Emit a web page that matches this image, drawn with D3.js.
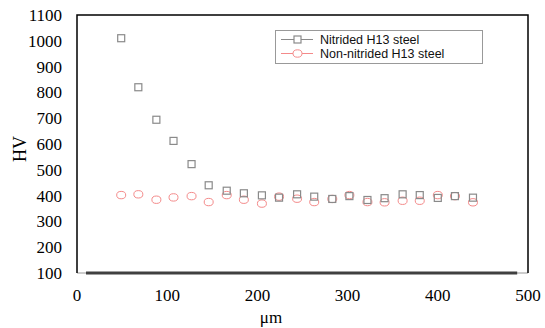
<!DOCTYPE html>
<html lang="en">
<head>
<meta charset="UTF-8">
<title>HV profile</title>
<script src="https://cdn.jsdelivr.net/npm/d3@7"></script>
<style>
  body { margin: 0; background: #fff; }
</style>
</head>
<body>
<script>
var width = 545, height = 328;
var plotLeft = 77, plotRight = 528, plotTop = 15, plotBottom = 273;

// depth positions (µm)
var depth = [49, 68, 88, 107, 127, 146, 166, 185, 205, 224, 244, 263, 283, 302, 322, 341, 361, 380, 400, 419, 439];
var nitrided = [1010, 820, 694, 612, 522, 440, 419, 409, 401, 392, 405, 396, 387, 398, 383, 390, 405, 402, 391, 398, 392];
var nonNitrided = [402, 405, 384, 393, 398, 375, 402, 384, 369, 396, 388, 375, 387, 402, 375, 374, 380, 380, 402, 398, 374];
var baseLine = [[10, 100], [488, 100]];
var xTicks = [0, 100, 200, 300, 400, 500];
var yTicks = [100, 200, 300, 400, 500, 600, 700, 800, 900, 1000, 1100];
var seriesNames = ["Nitrided H13 steel", "Non-nitrided H13 steel"];

var svg = d3.select("body").append("svg")
    .attr("width", width)
    .attr("height", height)

var x = d3.scaleLinear().domain([0, 500]).range([plotLeft, plotRight])
var y = d3.scaleLinear().domain([100, 1100]).range([plotBottom, plotTop])

// frame
svg.append("line").attr("x1", plotLeft).attr("x2", plotRight).attr("y1", plotBottom).attr("y2", plotBottom)
    .attr("stroke", "#999").attr("stroke-width", 1)
svg.append("path")
    .attr("d", "M" + plotLeft + "," + plotBottom + "V" + plotTop + "H" + plotRight + "V" + plotBottom)
    .attr("fill", "none").attr("stroke", "#000").attr("stroke-width", 1.5)

// thick line at HV 100
svg.append("path")
    .attr("d", d3.line().x(d => x(d[0])).y(d => y(d[1]))(baseLine))
    .attr("stroke", "#404040").attr("stroke-width", 3)

var tickFont = "'Liberation Serif', 'Times New Roman', serif";

svg.selectAll(".ytick").data(yTicks).join("text")
    .attr("class", "ytick")
    .attr("x", 62).attr("y", d => y(d))
    .attr("dy", "0.35em")
    .attr("text-anchor", "end")
    .attr("font-family", tickFont).attr("font-size", 17)
    .text(d => d)

svg.selectAll(".xtick").data(xTicks).join("text")
    .attr("class", "xtick")
    .attr("x", d => x(d)).attr("y", 301)
    .attr("text-anchor", "middle")
    .attr("font-family", tickFont).attr("font-size", 17)
    .text(d => d)

svg.append("text")
    .attr("x", 271).attr("y", 323)
    .attr("text-anchor", "middle")
    .attr("font-family", tickFont).attr("font-size", 17)
    .text("μm")

svg.append("text")
    .attr("transform", "translate(26,149) rotate(-90)")
    .attr("text-anchor", "middle")
    .attr("font-family", tickFont).attr("font-size", 18)
    .text("HV")

var sqColor = "#8a8a8a", ciColor = "#f48a8a";

// circles first, squares on top
svg.selectAll(".nn").data(depth).join("ellipse")
    .attr("class", "nn")
    .attr("cx", (d, i) => x(d)).attr("cy", (d, i) => y(nonNitrided[i]))
    .attr("rx", 4.5).attr("ry", 3.7)
    .attr("fill", "none").attr("stroke", ciColor).attr("stroke-width", 1)

svg.selectAll(".ni").data(depth).join("rect")
    .attr("class", "ni")
    .attr("x", (d, i) => x(d) - 3.5).attr("y", (d, i) => y(nitrided[i]) - 3.5)
    .attr("width", 7).attr("height", 7)
    .attr("fill", "none").attr("stroke", sqColor).attr("stroke-width", 1.2)

// legend
var lg = svg.append("g")
lg.append("rect").attr("x", 275.5).attr("y", 30.5).attr("width", 207).attr("height", 33)
    .attr("fill", "#fff").attr("stroke", "#999").attr("stroke-width", 1)

seriesNames.forEach(function (name, i) {
    var cy = 39.5 + i * 14;
    var col = i == 0 ? sqColor : ciColor;
    lg.append("line").attr("x1", 281).attr("x2", 313).attr("y1", cy).attr("y2", cy)
        .attr("stroke", col).attr("stroke-width", 1)
    if (i == 0) {
        lg.append("rect").attr("x", 294).attr("y", cy - 3.5).attr("width", 7).attr("height", 7)
            .attr("fill", "#fff").attr("stroke", col).attr("stroke-width", 1.2)
    } else {
        lg.append("ellipse").attr("cx", 297.5).attr("cy", cy).attr("rx", 4.5).attr("ry", 3.7)
            .attr("fill", "#fff").attr("stroke", col).attr("stroke-width", 1)
    }
    lg.append("text").attr("x", 320).attr("y", cy + 4.5)
        .attr("font-family", "'Liberation Sans', Arial, sans-serif").attr("font-size", 12.5)
        .attr("fill", "#111")
        .text(name)
})
</script>
</body>
</html>
